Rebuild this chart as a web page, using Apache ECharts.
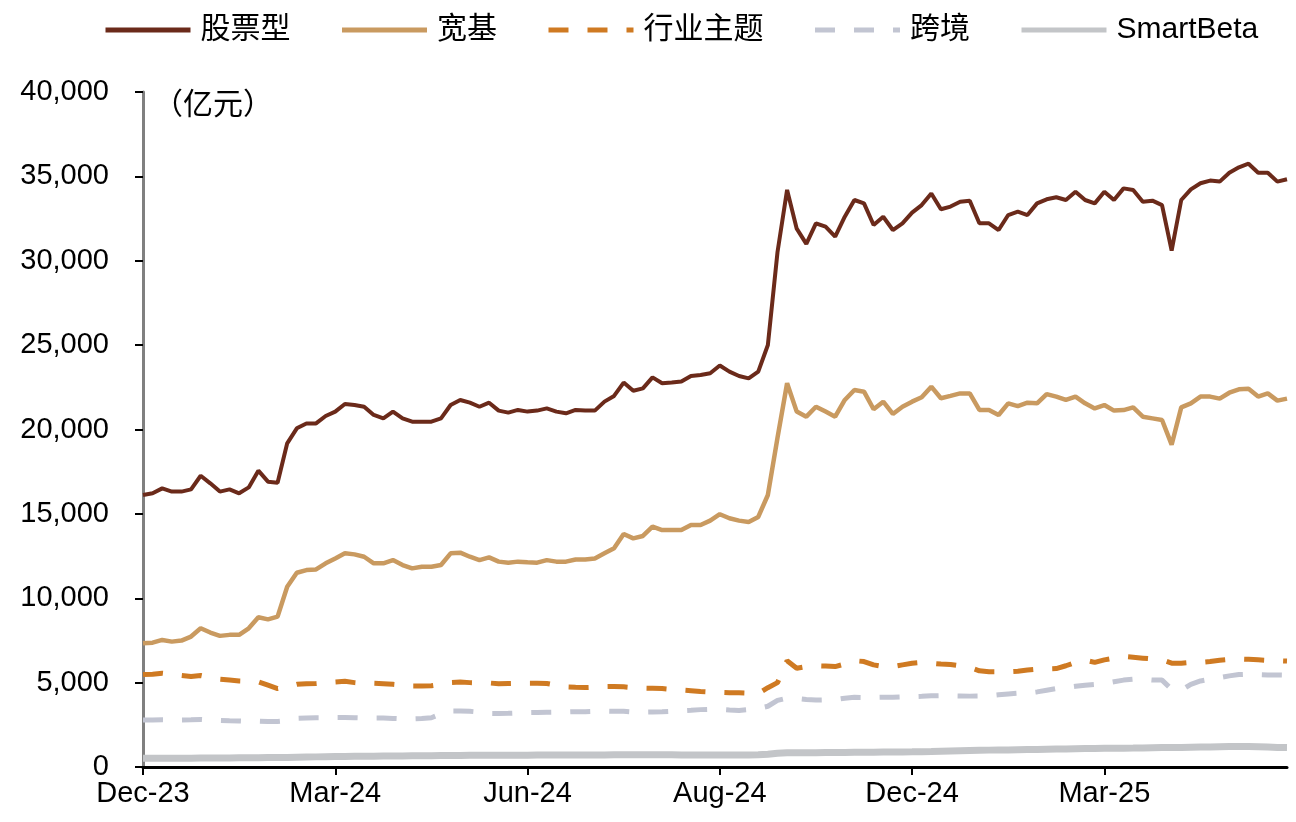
<!DOCTYPE html>
<html>
<head>
<meta charset="utf-8">
<script src="https://cdn.jsdelivr.net/npm/echarts@6/dist/echarts.min.js"></script>
<style>
html,body{margin:0;padding:0;background:#fff;}
#chart{width:1296px;height:822px;}
</style>
</head>
<body>
<div id="chart"></div>
<script>
// 120 sampled trading days (about every 3rd trading day), Dec-23 .. Jun-25
const categories = Array.from({length: 120}, (_, i) => String(i));
const tickLabels = ['Dec-23', 'Mar-24', 'Jun-24', 'Aug-24', 'Dec-24', 'Mar-25'];
const tickEvery = 20;

const seriesNames = ['股票型', '宽基', '行业主题', '跨境', 'SmartBeta'];

const stockType = [
16120,16220,16510,16320,16320,16450,17260,16810,16320,16450,
16220,16570,17560,16910,16850,19180,20070,20360,20360,20800,
21060,21510,21450,21350,20860,20660,21060,20660,20460,20460,
20460,20660,21450,21750,21590,21350,21590,21120,21000,21160,
21060,21120,21250,21060,20960,21160,21120,21120,21650,21990,
22780,22300,22440,23090,22740,22780,22840,23170,23230,23330,
23790,23430,23170,23030,23430,25010,30500,34200,31900,31000,
32220,32020,31430,32610,33600,33400,32120,32610,31820,32220,
32850,33300,33990,33050,33210,33500,33560,32220,32220,31820,
32710,32910,32710,33400,33640,33760,33600,34090,33600,33400,
34090,33600,34290,34190,33500,33560,33300,30600,33600,34230,
34590,34750,34690,35220,35540,35750,35220,35220,34690,34830
];

const broadBase = [
7330,7370,7530,7430,7490,7730,8220,7970,7770,7830,
7830,8220,8870,8750,8910,10680,11510,11670,11710,12070,
12360,12660,12600,12460,12070,12070,12260,11970,11770,11870,
11870,11970,12660,12700,12460,12260,12420,12170,12110,12170,
12130,12110,12260,12170,12170,12300,12300,12360,12660,12960,
13810,13550,13690,14240,14040,14040,14040,14340,14340,14600,
14980,14740,14600,14520,14820,16120,19500,22740,21060,20760,
21350,21060,20760,21750,22340,22240,21200,21650,20920,21350,
21650,21910,22540,21850,21990,22140,22140,21160,21160,20860,
21550,21390,21590,21550,22100,21950,21750,21950,21550,21250,
21450,21120,21150,21310,20760,20660,20560,19100,21310,21550,
21950,21950,21830,22180,22380,22420,21950,22140,21710,21830
];

const industryTheme = [
5480,5500,5560,5500,5420,5360,5420,5300,5200,5150,
5100,5080,5050,4850,4650,4750,4900,4940,4950,5000,
5040,5080,5000,4950,4960,4940,4900,4850,4800,4800,
4820,4900,5000,5030,5000,4980,4980,4930,4950,4960,
4960,4960,4950,4850,4740,4720,4710,4730,4760,4770,
4750,4700,4670,4660,4650,4600,4560,4520,4480,4450,
4420,4400,4400,4380,4350,4700,5000,6300,5850,5950,
6000,5980,5950,6100,6300,6250,6050,5950,5950,6050,
6150,6200,6150,6100,6080,6000,5900,5700,5650,5650,
5650,5680,5750,5800,5810,5830,6000,6200,6330,6200,
6350,6450,6550,6500,6450,6400,6350,6150,6150,6200,
6200,6250,6330,6380,6400,6380,6350,6320,6300,6280
];

const crossBorder = [
2780,2780,2800,2790,2790,2800,2820,2780,2760,2740,
2730,2700,2720,2700,2700,2750,2880,2900,2920,2920,
2930,2930,2920,2900,2900,2900,2880,2850,2850,2870,
2920,3150,3320,3320,3300,3250,3180,3170,3180,3200,
3220,3230,3240,3250,3260,3280,3280,3300,3310,3300,
3300,3260,3250,3260,3270,3300,3330,3360,3400,3420,
3420,3380,3350,3400,3470,3600,3950,4080,4060,4000,
3970,3980,4000,4080,4130,4120,4120,4130,4140,4160,
4170,4190,4220,4230,4220,4210,4200,4210,4220,4280,
4330,4370,4380,4450,4550,4650,4700,4780,4850,4900,
4950,5050,5150,5200,5200,5150,5150,4600,4550,4900,
5100,5200,5300,5400,5480,5500,5470,5450,5450,5440
];

const smartBeta = [
520,520,520,520,525,525,530,530,535,540,
545,550,555,560,565,570,580,590,600,610,
620,625,630,635,640,645,650,655,660,665,
670,675,680,685,690,690,695,695,700,700,
700,705,705,710,710,710,715,715,715,720,
720,720,720,720,720,720,715,715,710,710,
710,705,705,710,720,760,820,840,840,845,
850,855,860,865,870,875,880,885,890,895,
900,910,920,935,950,965,980,990,1000,1005,
1010,1020,1030,1040,1050,1060,1070,1080,1090,1100,
1105,1110,1115,1120,1130,1140,1150,1150,1160,1170,
1180,1190,1200,1210,1210,1210,1200,1180,1160,1150
];

const colors = ['#6B2A1A', '#C99A60', '#CF7A22', '#C2C5D2', '#C3C5C8'];

const chart = echarts.init(document.getElementById('chart'), null, {renderer: 'canvas'});

const font = '"Liberation Sans", Arial, "Noto Sans CJK SC", sans-serif';

const option = {
  backgroundColor: '#ffffff',
  animation: false,
  textStyle: {fontFamily: font},
  legend: {
    data: seriesNames,
    top: 10,
    left: 98,
    itemWidth: 85,
    itemHeight: 12,
    itemGap: 49,
    itemStyle: {opacity: 0},
    lineStyle: {width: 5},
    textStyle: {fontSize: 30, color: '#000', fontFamily: font, padding: [0, 0, 0, 5]}
  },
  grid: {left: 143, right: 9, top: 92, bottom: 55, containLabel: false},
  graphic: [{
    type: 'text',
    left: 153,
    top: 88,
    style: {text: '（亿元）', fontSize: 30, fill: '#000', fontFamily: '"Noto Sans CJK SC", sans-serif'}
  }],
  xAxis: {
    type: 'category',
    data: categories,
    boundaryGap: false,
    axisLine: {show: true, lineStyle: {color: '#000', width: 3}},
    axisTick: {show: true, interval: tickEvery - 1, length: 8, lineStyle: {color: '#000', width: 2}},
    axisLabel: {
      interval: tickEvery - 1,
      margin: 12,
      fontSize: 29,
      color: '#000',
      fontFamily: font,
      formatter: function (v, idx) { return tickLabels[Math.round(idx / tickEvery)] || ''; }
    },
    splitLine: {show: false}
  },
  yAxis: {
    type: 'value',
    min: 0,
    max: 40000,
    interval: 5000,
    axisLine: {show: true, lineStyle: {color: '#808080', width: 3}},
    axisTick: {show: true, length: 8, lineStyle: {color: '#000', width: 2}},
    axisLabel: {
      fontSize: 29,
      color: '#000',
      margin: 34,
      fontFamily: font,
      formatter: function (v) { return v.toLocaleString('en-US'); }
    },
    splitLine: {show: false}
  },
  series: [
    {name: seriesNames[0], type: 'line', data: stockType, symbol: 'none', z: 10,
     lineStyle: {color: colors[0], width: 4}, itemStyle: {color: colors[0]}},
    {name: seriesNames[1], type: 'line', data: broadBase, symbol: 'none', z: 9,
     lineStyle: {color: colors[1], width: 4.5}, itemStyle: {color: colors[1]}},
    {name: seriesNames[2], type: 'line', data: industryTheme, symbol: 'none', z: 8,
     lineStyle: {color: colors[2], width: 5, type: [20, 19]}, itemStyle: {color: colors[2]}},
    {name: seriesNames[3], type: 'line', data: crossBorder, symbol: 'none', z: 7,
     lineStyle: {color: colors[3], width: 5, type: [20, 19]}, itemStyle: {color: colors[3]}},
    {name: seriesNames[4], type: 'line', data: smartBeta, symbol: 'none', z: 6,
     lineStyle: {color: colors[4], width: 7}, itemStyle: {color: colors[4]}}
  ]
};

chart.setOption(option);
</script>
</body>
</html>
